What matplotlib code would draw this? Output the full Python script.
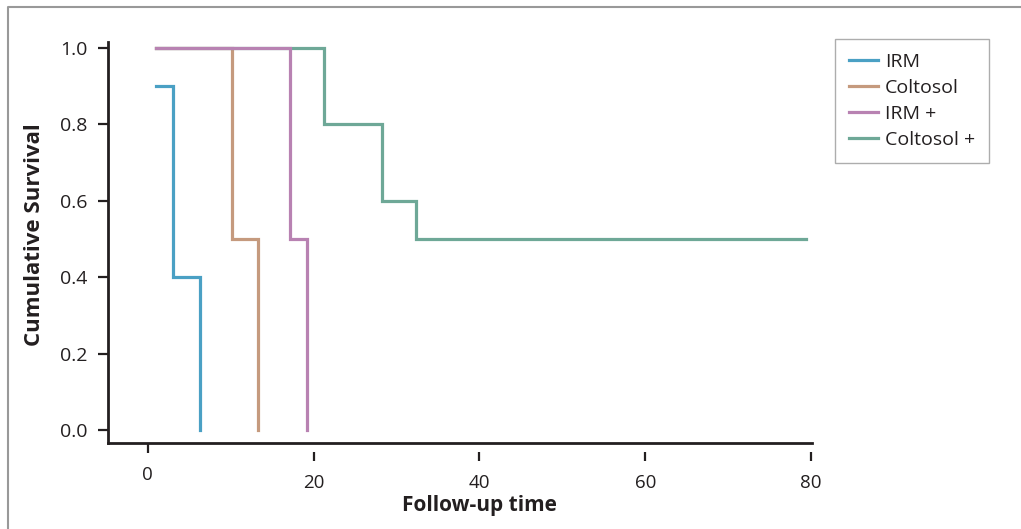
import numpy as np
import matplotlib
matplotlib.use("Agg")
import matplotlib.pyplot as plt
from matplotlib.transforms import ScaledTranslation

plt.rcParams['font.family'] = ['Open Sans', 'DejaVu Sans']

# step data (time, survival)
irm_t = [1, 3, 6.3]
irm_s = [0.9, 0.4, 0.0]
colt_t = [1, 10.2, 13.3]
colt_s = [1.0, 0.5, 0.0]
irmp_t = [1, 17.2, 19.2]
irmp_s = [1.0, 0.5, 0.0]
coltp_t = [1, 21.2, 28.2, 32.3, 79.4]
coltp_s = [1.0, 0.8, 0.6, 0.5, 0.5]

names = ['IRM', 'Coltosol', 'IRM +', 'Coltosol +']
cols = ['#4aa0c4', '#c59a7e', '#b882b2', '#6ea897']

xticks = [0, 20, 40, 60, 80]
yticks = [0.0, 0.2, 0.4, 0.6, 0.8, 1.0]

W, H = 1021, 529
fig = plt.figure(figsize=(W/100, H/100), dpi=100)
ax = fig.add_axes([108/W, 1-443/H, (812-108)/W, (443-42)/H])

def step(t, s):
    # survival curve: hold each level until the next event, then drop
    xs, ys = [t[0]], [s[0]]
    for i in range(1, len(t)):
        xs += [t[i], t[i]]
        ys += [s[i-1], s[i]]
    return xs, ys

series = [(irm_t, irm_s), (colt_t, colt_s), (irmp_t, irmp_s), (coltp_t, coltp_s)]
handles = [None]*4
for i in [0, 1, 3, 2]:
    xs, ys = step(*series[i])
    ln, = ax.plot(xs, ys, color=cols[i], lw=2.3, solid_joinstyle='miter', label=names[i])
    handles[i] = ln

ax.set_xlim(-4.8, 80.1)
ax.set_ylim(-0.034, 1.016)
for s in ['top', 'right']:
    ax.spines[s].set_visible(False)
for s in ['left', 'bottom']:
    ax.spines[s].set_linewidth(2)
    ax.spines[s].set_color('#231f20')

ax.set_yticks(yticks)
ax.set_yticklabels([f'{v:.1f}' for v in yticks])
ax.tick_params(axis='y', direction='out', length=7.5, width=1.6, color='#231f20',
               labelsize=14, pad=7, labelcolor='#231f20')
ax.set_xticks([])

# x ticks sit a little below the axis line
sec = ax.secondary_xaxis(-9/401)
sec.spines['bottom'].set_visible(False)
sec.set_xticks(xticks)
sec.tick_params(axis='x', direction='out', length=6.5, width=1.6, color='#231f20',
                labelsize=13.5, pad=9.5, labelcolor='#231f20')
up = ScaledTranslation(0, 8/100, fig.dpi_scale_trans)
t0 = sec.xaxis.get_major_ticks()[0]
t0.tick1line.set_transform(t0.tick1line.get_transform() + up)
t0.label1.set_transform(t0.label1.get_transform() + up)

fig.text(479/W, 1-511/H, 'Follow-up time', ha='center', va='baseline',
         fontsize=15, fontweight='bold', color='#231f20')
fig.text(34/W, 1-235/H, 'Cumulative Survival', ha='center', va='center',
         rotation=90, fontsize=16, fontweight='bold', color='#231f20')

leg = fig.legend(handles=handles, loc='upper left', bbox_to_anchor=(835/W, 1-39/H),
                 fontsize=14, frameon=True, fancybox=False, edgecolor='#999999',
                 handlelength=1.5, handletextpad=0.38, labelspacing=0.42,
                 borderpad=0.7, borderaxespad=0)
leg.get_frame().set_linewidth(1)
for txt in leg.get_texts():
    txt.set_color('#231f20')

# figure border (top and left edges only visible)
fig.add_artist(plt.Line2D([8/W, 8/W, 1], [0, 1-7/H, 1-7/H], transform=fig.transFigure,
                          color='#999999', lw=1.5))

fig.savefig('out.png', dpi=100)
